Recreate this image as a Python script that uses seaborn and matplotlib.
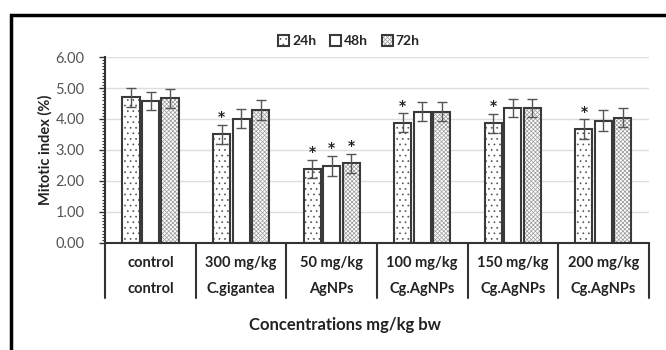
import matplotlib
matplotlib.use('Agg')
import matplotlib.pyplot as plt
import matplotlib.transforms as mtransforms
from matplotlib.patches import Rectangle
from matplotlib.ticker import MultipleLocator, FormatStrFormatter
import pandas as pd
import seaborn as sns

# chart data
dose_labels = ['control', '300 mg/kg', '50 mg/kg', '100 mg/kg', '150 mg/kg', '200 mg/kg']
treatment_labels = ['control', 'C.gigantea', 'AgNPs', 'Cg.AgNPs', 'Cg.AgNPs', 'Cg.AgNPs']
times = ['24h', '48h', '72h']
mi_24h = [4.70, 3.50, 2.38, 3.88, 3.86, 3.67]
mi_48h = [4.58, 4.01, 2.48, 4.24, 4.37, 3.95]
mi_72h = [4.67, 4.29, 2.57, 4.24, 4.37, 4.04]
err_24h = [0.30, 0.30, 0.30, 0.30, 0.30, 0.32]
err_48h = [0.30, 0.31, 0.32, 0.32, 0.29, 0.33]
err_72h = [0.30, 0.32, 0.30, 0.32, 0.29, 0.31]
sig_24h = [False, True, True, True, True, True]
sig_48h = [False, False, True, False, False, False]
sig_72h = [False, False, True, False, False, False]

groups = [f'{d}|{t}' for d, t in zip(dose_labels, treatment_labels)]
rows = []
for t, vals in zip(times, [mi_24h, mi_48h, mi_72h]):
    for g, v in zip(groups, vals):
        rows.append({'group': g, 'time': t, 'mi': v})
df = pd.DataFrame(rows)

sns.set_style('white')
plt.rcParams['font.family'] = ['Lato', 'DejaVu Sans']
plt.rcParams['hatch.linewidth'] = 0.5

fig = plt.figure(figsize=(6.66, 3.5), dpi=100)
ax = fig.add_axes([0.158, 0.306, 0.816, 0.531])

sns.barplot(data=df, x='group', y='mi', hue='time', order=groups, hue_order=times,
            width=0.645, gap=0.12, palette=['white'] * 3, edgecolor='#3a3a3a',
            linewidth=1.5, errorbar=None, legend=False, ax=ax)

hatches = ['...', '', 'xxxxxxxx']
hatch_colors = ['#555555', '#555555', '#9a9a9a']
errs = [err_24h, err_48h, err_72h]
sigs = [sig_24h, sig_48h, sig_72h]
vals_all = [mi_24h, mi_48h, mi_72h]
for cont, h, hc, err, sig, vals in zip(ax.containers, hatches, hatch_colors, errs, sigs, vals_all):
    xs = []
    for bar in cont:
        bar.set_hatch(h)
        if hasattr(bar, 'set_hatchcolor'):
            bar.set_hatchcolor(hc)
        else:
            bar._hatch_color = matplotlib.colors.to_rgba(hc)
        xs.append(bar.get_x() + bar.get_width() / 2)
    ax.errorbar(xs, vals, yerr=err, fmt='none', ecolor='#555555', elinewidth=1,
                capsize=3.5, capthick=1, zorder=4)
    for x, v, e, s in zip(xs, vals, err, sig):
        if s:
            ax.text(x, v + e + 0.12, '*', ha='center', va='baseline', fontsize=10,
                    fontweight='bold', color='#222222', family='DejaVu Sans')

ax.set_ylim(0, 6)
ax.set_xlim(-0.5, len(groups) - 0.5)
ax.yaxis.set_major_locator(MultipleLocator(1))
ax.yaxis.set_minor_locator(MultipleLocator(0.1))
ax.yaxis.set_major_formatter(FormatStrFormatter('%.2f'))
ax.grid(axis='y', color='#dddddd', linewidth=1)
ax.set_axisbelow(True)
for s in ['top', 'right']:
    ax.spines[s].set_visible(False)
for s in ['left', 'bottom']:
    ax.spines[s].set_color('#333333')
    ax.spines[s].set_linewidth(1.5)
ax.tick_params(axis='y', which='major', left=True, length=4, width=1, color='#333333',
               labelsize=10.5, labelcolor='#555555', pad=11)
ax.tick_params(axis='y', which='minor', left=True, length=2.5, width=0.8, color='#333333')
ax.set_xticks(range(len(groups)))
ax.set_xticklabels([''] * len(groups))
ax.tick_params(axis='x', bottom=True, direction='in', length=2, color='#333333')
ax.set_xlabel('')
ax.set_ylabel('Mitotic index (%)', fontsize=10.5, fontweight='bold', color='#222222',
              labelpad=2)

# two-row category axis
trans = mtransforms.blended_transform_factory(ax.transData, ax.transAxes)
for i, (d, t) in enumerate(zip(dose_labels, treatment_labels)):
    ax.text(i, -0.11, d, transform=trans, ha='center', va='center', fontsize=10.5,
            fontweight='bold', color='#222222')
    ax.text(i, -0.25, t, transform=trans, ha='center', va='center', fontsize=10.5,
            fontweight='bold', color='#222222')
for b in [i - 0.5 for i in range(len(groups) + 1)]:
    ax.plot([b, b], [0, -0.295], transform=trans, color='#333333', lw=1.5,
            clip_on=False)

fig.text(0.518, 0.071, 'Concentrations mg/kg bw', ha='center', va='center',
         fontsize=12, fontweight='bold', color='#222222')

handles = [cont[0] for cont in ax.containers]
fig.legend(handles, times, loc='center', bbox_to_anchor=(0.524, 0.882), ncol=3,
           frameon=False, handlelength=0.8, handleheight=0.8,
           handletextpad=0.2, columnspacing=1.0, prop={'weight': 'bold', 'size': 10})

# outer frame (cropped at right and bottom)
fig.patches.append(Rectangle((0.016, -0.05), 1.1, 1.007, transform=fig.transFigure,
                             fill=False, edgecolor='black', linewidth=2.5))

fig.savefig('out.png', dpi=100)
